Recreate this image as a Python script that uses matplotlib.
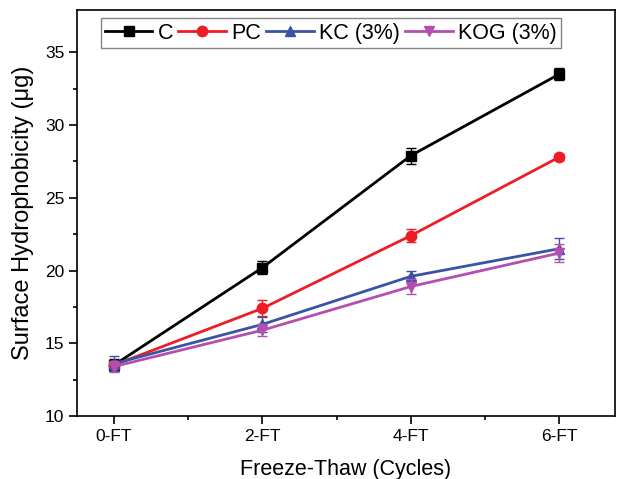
import numpy as np
import matplotlib.pyplot as plt

plt.rcParams['font.family'] = ['Liberation Sans', 'DejaVu Sans']

categorias = ['0-FT', '2-FT', '4-FT', '6-FT']
x = np.array([0, 2, 4, 6])

c_val = [13.5, 20.2, 27.9, 33.5]
c_err = [0.4, 0.45, 0.55, 0.4]
pc_val = [13.5, 17.4, 22.4, 27.8]
pc_err = [0.3, 0.55, 0.45, 0.2]
kc_val = [13.6, 16.3, 19.6, 21.5]
kc_err = [0.5, 0.5, 0.35, 0.7]
kog_val = [13.4, 15.9, 18.9, 21.2]
kog_err = [0.4, 0.4, 0.5, 0.6]

series = [
    ('C', c_val, c_err, '#000000', 's'),
    ('PC', pc_val, pc_err, '#ee1c25', 'o'),
    ('KC (3%)', kc_val, kc_err, '#3a53a4', '^'),
    ('KOG (3%)', kog_val, kog_err, '#b44fb0', 'v'),
]

fig = plt.figure(figsize=(6.2, 4.79), dpi=100)
ax = fig.add_axes([0.124, 0.1315, 0.868, 0.8475])

for nombre, val, err, col, mk in series:
    ax.errorbar(x, val, yerr=err, color=col, fmt='none',
                elinewidth=1, capsize=3.5, capthick=1)
    ax.plot(x, val, color=col, marker=mk, markersize=7.5,
            linewidth=2, label=nombre)

ax.set_xlim(-0.5, 6.75)
ax.set_ylim(10, 37.9)
ax.set_xticks(x)
ax.set_xticklabels(categorias)
ax.set_xticks([1, 3, 5], minor=True)
ax.set_yticks([10, 15, 20, 25, 30, 35])
ax.set_yticks([12.5, 17.5, 22.5, 27.5, 32.5], minor=True)
ax.tick_params(axis='both', which='major', direction='out', length=5.5, width=1.2, labelsize=12.5)
ax.tick_params(axis='both', which='minor', direction='out', length=3, width=1.2)
for s in ax.spines.values():
    s.set_linewidth(1.2)

ax.set_xlabel('Freeze-Thaw (Cycles)', fontsize=15.5, labelpad=11.5)
ax.set_ylabel('Surface Hydrophobicity (\u03bcg)', fontsize=17, labelpad=8)

leg = ax.legend(loc='upper left', bbox_to_anchor=(0.04, 0.985), ncol=4, fontsize=15.5,
                frameon=True, fancybox=False, edgecolor='#666666', handlelength=2.2,
                handletextpad=0.25, columnspacing=0.25, borderpad=0.2, borderaxespad=0.1)
leg.get_frame().set_linewidth(1)

fig.savefig('out.png', dpi=100)
